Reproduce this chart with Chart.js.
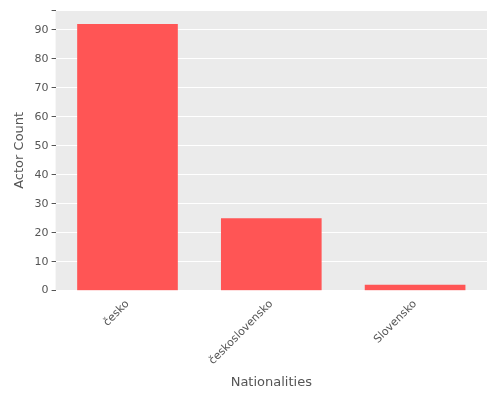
<!DOCTYPE html>
<html>
<head>
<script src="https://cdn.jsdelivr.net/npm/chart.js@4"></script>
<style>
  body { margin: 0; background: #fff; }
  #wrap { width: 500px; height: 400px; }
</style>
</head>
<body>
<div id="wrap"><canvas id="c"></canvas></div>
<script>
const categories = ["česko", "československo", "Slovensko"]
const actorCounts = [92, 25, 2]

// grey panel behind the plot, ggplot style
const panelBg = {
  id: "panelBg",
  beforeDraw(chart) {
    const { ctx, chartArea: a } = chart
    ctx.save()
    ctx.fillStyle = "#EBEBEB"
    ctx.fillRect(a.left, a.top, a.right - a.left, a.bottom - a.top)
    ctx.restore()
  }
}

new Chart(document.getElementById("c"), {
  type: "bar",
  data: {
    labels: categories,
    datasets: [{
      data: actorCounts,
      backgroundColor: "#FF5555",
      categoryPercentage: 1,
      barPercentage: 0.7
    }]
  },
  options: {
    responsive: true,
    maintainAspectRatio: false,
    animation: false,
    layout: { padding: { top: 10, right: 13, left: 8, bottom: 6 } },
    plugins: { legend: { display: false }, tooltip: { enabled: false } },
    scales: {
      x: {
        grid: { display: false, drawTicks: true, tickLength: 4, tickColor: "#555" },
        border: { display: false },
        ticks: {
          color: "#555",
          font: { family: "DejaVu Sans", size: 11 },
          maxRotation: 45, minRotation: 45
        },
        title: {
          display: true, text: "Nationalities", color: "#555",
          font: { family: "DejaVu Sans", size: 13 }
        }
      },
      y: {
        min: 0, max: 96.8,
        grid: { color: "#FFFFFF", lineWidth: 1, tickLength: 4, tickColor: "#555" },
        border: { display: false },
        ticks: {
          stepSize: 10, color: "#555",
          font: { family: "DejaVu Sans", size: 11 },
          callback: v => (v % 10 === 0 ? v : "")
        },
        title: {
          display: true, text: "Actor Count", color: "#555",
          font: { family: "DejaVu Sans", size: 13 }
        }
      }
    }
  },
  plugins: [panelBg]
})
</script>
</body>
</html>
